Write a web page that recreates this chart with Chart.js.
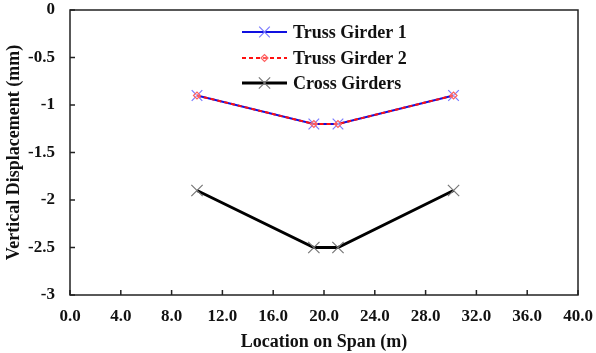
<!DOCTYPE html>
<html>
<head>
<meta charset="utf-8">
<script src="https://cdn.jsdelivr.net/npm/chart.js@4/dist/chart.umd.min.js"></script>
<style>
  html, body { margin: 0; padding: 0; background: #fff; }
  #wrap { width: 596px; height: 353px; }
</style>
</head>
<body>
<div id="wrap"><canvas id="myChart" width="596" height="353"></canvas></div>
<script>
// dati
let spanX = [10, 19.2, 21.1, 30.2];
let truss1 = [-0.9, -1.2, -1.2, -0.9];
let truss2 = [-0.9, -1.2, -1.2, -0.9];
let cross = [-1.9, -2.5, -2.5, -1.9];
let xTicks = [0, 4, 8, 12, 16, 20, 24, 28, 32, 36, 40];
let yTicks = [0, -0.5, -1, -1.5, -2, -2.5, -3];

const fontFam = "'Liberation Serif', 'Times New Roman', serif";
const ctx = document.getElementById('myChart');

function punti(ys){
    let out = [];
    for(let i = 0; i < spanX.length; i++){
        out.push({x: spanX[i], y: ys[i]});
    }
    return out;
}

// box e tacche interne
const boxPlugin = {
    id: 'box',
    afterDatasetsDraw(chart){
        const c = chart.ctx;
        const a = chart.chartArea;
        const sx = chart.scales.x, sy = chart.scales.y;
        c.save();
        c.strokeStyle = '#222';
        c.lineWidth = 1.5;
        c.strokeRect(a.left, a.top, a.right - a.left, a.bottom - a.top);
        c.beginPath();
        for(let v of xTicks){
            let px = sx.getPixelForValue(v);
            c.moveTo(px, a.bottom);
            c.lineTo(px, a.bottom - 5);
        }
        for(let v of yTicks){
            let py = sy.getPixelForValue(v);
            c.moveTo(a.left, py);
            c.lineTo(a.left + 5, py);
        }
        c.stroke();
        c.restore();
    }
};

// legenda disegnata a mano (linea + marker)
const legendPlugin = {
    id: 'legendaCustom',
    afterDraw(chart){
        const c = chart.ctx;
        const a = chart.chartArea;
        const x0 = a.left + 172, x1 = a.left + 217;
        const rows = [a.top + 22, a.top + 48, a.top + 73];
        c.save();
        chart.data.datasets.forEach((ds, i) => {
            let y = rows[i];
            c.beginPath();
            c.strokeStyle = ds.borderColor;
            c.lineWidth = ds.borderWidth;
            c.setLineDash(ds.borderDash || []);
            c.moveTo(x0, y);
            c.lineTo(x1, y);
            c.stroke();
            c.setLineDash([]);
            c.strokeStyle = ds.pointBorderColor;
            c.fillStyle = ds.pointBackgroundColor;
            c.lineWidth = ds.pointBorderWidth;
            Chart.helpers.drawPoint(c, {pointStyle: ds.pointStyle, radius: ds.pointRadius, rotation: 0, borderWidth: ds.pointBorderWidth}, (x0 + x1) / 2, y);
            c.fillStyle = '#111';
            c.font = "bold 18px " + fontFam;
            c.textBaseline = 'middle';
            c.fillText(ds.label, x1 + 6, y + 1);
        });
        c.restore();
    }
};

new Chart(ctx, {
    type: 'line',
    data: {
        datasets: [{
            label: 'Truss Girder 1',
            data: punti(truss1),
            borderColor: '#1010e0',
            borderWidth: 2,
            pointStyle: 'crossRot',
            pointRadius: 7.5,
            pointBorderColor: '#7a7aff',
            pointBackgroundColor: 'rgba(0,0,0,0)',
            pointBorderWidth: 1.2,
            order: 2
        }, {
            label: 'Truss Girder 2',
            data: punti(truss2),
            borderColor: '#ff1010',
            borderWidth: 2,
            borderDash: [4, 3],
            pointStyle: 'rectRot',
            pointRadius: 3.5,
            pointBorderColor: '#ff6060',
            pointBackgroundColor: 'rgba(255,255,255,0.3)',
            pointBorderWidth: 1.2,
            order: 1
        }, {
            label: 'Cross Girders',
            data: punti(cross),
            borderColor: '#000000',
            borderWidth: 3,
            pointStyle: 'crossRot',
            pointRadius: 8,
            pointBorderColor: '#777777',
            pointBackgroundColor: 'rgba(0,0,0,0)',
            pointBorderWidth: 1.2,
            order: 3
        }]
    },
    options: {
        responsive: false,
        animation: false,
        layout: { padding: { top: 10, right: 18, left: 0, bottom: 0 } },
        plugins: {
            legend: { display: false },
            tooltip: { enabled: false }
        },
        scales: {
            x: {
                type: 'linear',
                min: 0, max: 40,
                afterBuildTicks(s){ s.ticks = xTicks.map(v => ({value: v})); },
                afterFit(s){
                    s.height = 58;
                    s.paddingLeft = 0;
                    s.paddingRight = 0;
                },
                grid: { display: false, drawTicks: false },
                border: { display: false },
                ticks: {
                    padding: 11,
                    color: '#111',
                    maxRotation: 0,
                    font: { family: fontFam, size: 17, weight: 'bold' },
                    callback: v => v.toFixed(1)
                },
                title: {
                    display: true,
                    text: 'Location on Span (m)',
                    color: '#111',
                    padding: { top: 0, bottom: 0 },
                    font: { family: fontFam, size: 18, weight: 'bold' }
                }
            },
            y: {
                type: 'linear',
                min: -3, max: 0,
                afterBuildTicks(s){ s.ticks = yTicks.map(v => ({value: v})); },
                afterFit(s){
                    s.width = 70;
                    s.paddingTop = 0;
                    s.paddingBottom = 0;
                },
                grid: { display: false, drawTicks: false },
                border: { display: false },
                ticks: {
                    padding: 15,
                    color: '#111',
                    font: { family: fontFam, size: 17, weight: 'bold' },
                    callback: v => String(v)
                },
                title: {
                    display: true,
                    text: 'Vertical Displacement (mm)',
                    color: '#111',
                    padding: { top: 4, bottom: 0 },
                    font: { family: fontFam, size: 18, weight: 'bold' }
                }
            }
        }
    },
    plugins: [boxPlugin, legendPlugin]
});
</script>
</body>
</html>
